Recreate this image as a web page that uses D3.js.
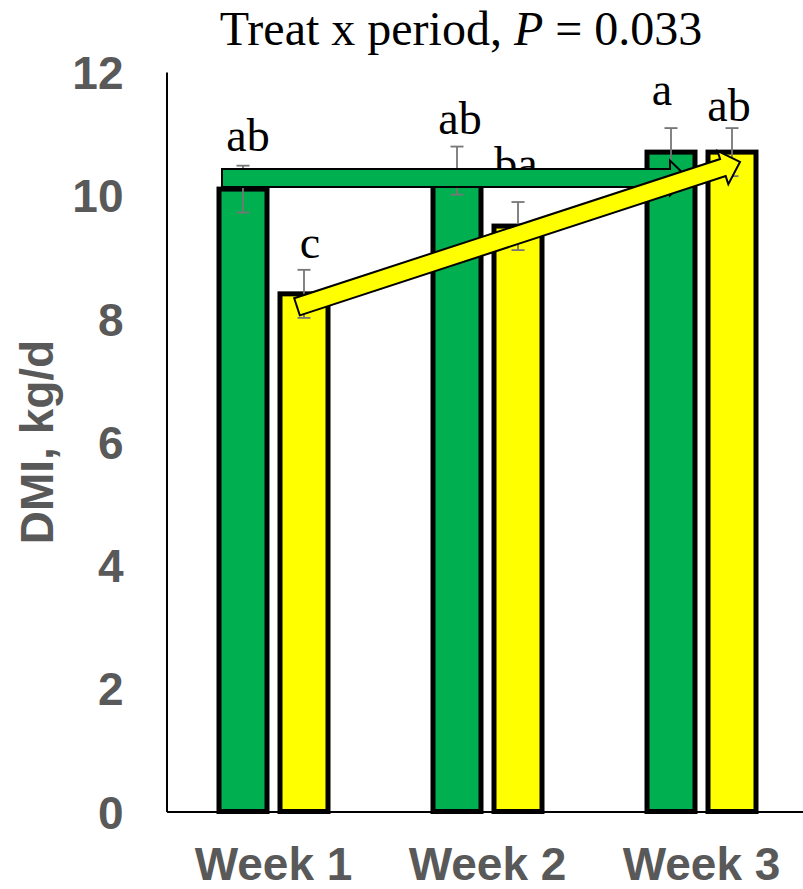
<!DOCTYPE html>
<html>
<head>
<meta charset="utf-8">
<script src="https://cdn.jsdelivr.net/npm/d3@7"></script>
<style>
  html, body { margin: 0; padding: 0; background: #fff; }
  svg { display: block; }
</style>
</head>
<body>
<div id="chart"></div>
<script>
// ---- data ----
const weeks = ["Week 1", "Week 2", "Week 3"];
const seriesNames = ["green", "yellow"];
const greenDMI = [10.1, 10.4, 10.7];
const yellowDMI = [8.4, 9.5, 10.7];
const greenSE = [0.38, 0.39, 0.39];
const yellowSE = [0.39, 0.39, 0.39];
const greenLetters = ["ab", "ab", "a"];
const yellowLetters = ["c", "ba", "ab"];
const yTicks = [0, 2, 4, 6, 8, 10, 12];
const titleParts = ["Treat x period, ", "P", " = 0.033"];
const yTitle = "DMI, kg/d";
// trend arrows: [week, value] at tail and tip
const greenArrow = { from: ["Week 1", 10.28], to: ["Week 3", 10.28] };
const yellowArrow = { from: ["Week 1", 8.19], to: ["Week 3", 10.54] };

// ---- layout / style ----
const W = 803, H = 889;
const colors = { green: "#00B050", yellow: "#FFFF00" };
const axisGray = "#595959";
const errGray = "#767676";
const barW = 48, barStroke = 5;
// letter placement tweaks (px) relative to the top of each error bar
const greenNudge = [[5, -15], [3, -13], [-9, -23]];
const yellowNudge = [[6, -12], [-2, -23], [-3, -7]];
// arrow ends relative to the bar centre (px)
const greenArrowDx = [-21, 17];
const yellowArrowDx = [-7, 8];

const svg = d3.select("#chart").append("svg")
  .attr("width", W).attr("height", H);

const x = d3.scaleBand().domain(weeks).range([166.5, 808.5]).padding(0);
const xSub = d3.scalePoint().domain(seriesNames).range([-30.5, 30.5]);
const y = d3.scaleLinear().domain([0, 12]).range([811.5, 72]);

const rows = [];
weeks.forEach((w, i) => {
  rows.push({ week: w, s: "green", v: greenDMI[i], se: greenSE[i], lab: greenLetters[i], nudge: greenNudge[i] });
  rows.push({ week: w, s: "yellow", v: yellowDMI[i], se: yellowSE[i], lab: yellowLetters[i], nudge: yellowNudge[i] });
});
const cx = d => x(d.week) + x.bandwidth() / 2 + xSub(d.s);

// title
const title = svg.append("text")
  .attr("x", 461).attr("y", 45)
  .attr("text-anchor", "middle")
  .style("font-family", "'Liberation Serif', 'Times New Roman', serif")
  .style("font-size", "48px").attr("fill", "#000");
title.append("tspan").text(titleParts[0]);
title.append("tspan").style("font-style", "italic").text(titleParts[1]);
title.append("tspan").text(titleParts[2]);

// y axis
const yAxis = svg.append("g").attr("transform", "translate(166.5,0)")
  .call(d3.axisLeft(y).tickValues(yTicks).tickSize(0).tickSizeOuter(0).tickPadding(43).tickFormat(d3.format("d")));
yAxis.select(".domain").attr("stroke", "#000").attr("stroke-width", 2);
yAxis.selectAll("text")
  .style("font-family", "'Liberation Sans', Arial, sans-serif")
  .style("font-size", "46px").style("font-weight", "bold")
  .attr("fill", axisGray).attr("dy", "0.36em");

// y title
svg.append("text")
  .attr("transform", "translate(53,442) rotate(-90)")
  .attr("text-anchor", "middle")
  .style("font-family", "'Liberation Sans', Arial, sans-serif")
  .style("font-size", "46px").style("font-weight", "bold")
  .attr("fill", axisGray).text(yTitle);

// bars
svg.append("g").selectAll("rect").data(rows).join("rect")
  .attr("x", d => cx(d) - barW / 2)
  .attr("y", d => y(d.v))
  .attr("width", barW)
  .attr("height", d => y(0) - y(d.v))
  .attr("fill", d => colors[d.s])
  .attr("stroke", "#000").attr("stroke-width", barStroke);

// x axis
const xAxis = svg.append("g").attr("transform", `translate(0,${y(0)})`)
  .call(d3.axisBottom(x).tickSize(0).tickSizeOuter(0));
xAxis.select(".domain").attr("stroke", "#000").attr("stroke-width", 2);
xAxis.selectAll("text")
  .attr("y", 68.5).attr("dy", 0)
  .style("font-family", "'Liberation Sans', Arial, sans-serif")
  .style("font-size", "46px").style("font-weight", "bold")
  .attr("fill", axisGray);

// error bars
const eg = svg.append("g").attr("stroke", errGray).attr("stroke-width", 1.8);
rows.forEach(d => {
  const x0 = cx(d), yt = y(d.v + d.se), yb = y(d.v - d.se);
  eg.append("line").attr("x1", x0).attr("x2", x0).attr("y1", yt).attr("y2", yb);
  eg.append("line").attr("x1", x0 - 6.5).attr("x2", x0 + 6.5).attr("y1", yt).attr("y2", yt);
  eg.append("line").attr("x1", x0 - 6.5).attr("x2", x0 + 6.5).attr("y1", yb).attr("y2", yb);
});

// significance letters
svg.append("g").selectAll("text").data(rows).join("text")
  .attr("x", d => cx(d) + d.nudge[0])
  .attr("y", d => y(d.v + d.se) + d.nudge[1])
  .attr("text-anchor", "middle")
  .style("font-family", "'Liberation Serif', 'Times New Roman', serif")
  .style("font-size", "46px").attr("fill", "#000")
  .text(d => d.lab);

// block arrows
function arrowPath(x1, y1, x2, y2) {
  const half = 9, headHalf = 17.5, headLen = 18;
  const dx = x2 - x1, dy = y2 - y1, len = Math.hypot(dx, dy);
  const ux = dx / len, uy = dy / len, nx = -uy, ny = ux;
  const bx = x2 - ux * headLen, by = y2 - uy * headLen;
  const pts = [
    [x1 + nx * half, y1 + ny * half],
    [bx + nx * half, by + ny * half],
    [bx + nx * headHalf, by + ny * headHalf],
    [x2, y2],
    [bx - nx * headHalf, by - ny * headHalf],
    [bx - nx * half, by - ny * half],
    [x1 - nx * half, y1 - ny * half]
  ];
  return "M" + pts.map(p => p.join(",")).join("L") + "Z";
}
function drawArrow(a, series, dxs) {
  const xc = w => x(w) + x.bandwidth() / 2 + xSub(series);
  svg.append("path")
    .attr("d", arrowPath(xc(a.from[0]) + dxs[0], y(a.from[1]), xc(a.to[0]) + dxs[1], y(a.to[1])))
    .attr("fill", colors[series])
    .attr("stroke", "#000").attr("stroke-width", 2).attr("stroke-linejoin", "miter");
}
drawArrow(greenArrow, "green", greenArrowDx);
drawArrow(yellowArrow, "yellow", yellowArrowDx);
</script>
</body>
</html>
